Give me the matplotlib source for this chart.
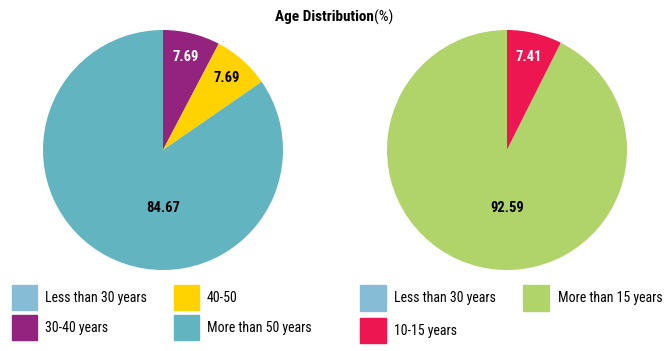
import numpy as np
import matplotlib.pyplot as plt
from matplotlib.patches import Patch

plt.rcParams['font.family'] = ['Roboto Condensed', 'Sofia Sans Condensed', 'DejaVu Sans']

# left pie: age of staff
age_labels = ["Less than 30 years", "30-40 years", "40-50", "More than 50 years"]
age_values = [0, 7.69, 7.69, 84.67]
age_colors = ["#86bcd6", "#93237f", "#ffd200", "#62b4c0"]
age_text = ["white", "white", "black", "black"]

# right pie: experience
exp_labels = ["Less than 30 years", "10-15 years", "More than 15 years"]
exp_values = [0, 7.41, 92.59]
exp_colors = ["#86bcd6", "#ee1651", "#b0d46a"]
exp_text = ["white", "white", "black"]


def draw_pie(ax, values, colors, text_colors):
    wedges, _ = ax.pie(values, colors=colors, startangle=90, counterclock=False,
                       radius=1.0, wedgeprops=dict(linewidth=0))
    for w, v, tc in zip(wedges, values, text_colors):
        if v == 0:
            continue
        if v > 50:
            x, y = 0, -0.48
        else:
            ang = np.deg2rad((w.theta1 + w.theta2) / 2)
            r = 0.8
            x, y = r * np.cos(ang), r * np.sin(ang)
        ax.text(x, y, f"{v:.2f}", ha='center', va='center', color=tc,
                fontsize=10.5, fontweight='bold')
    ax.set_xlim(-1, 1)
    ax.set_ylim(-1, 1)
    ax.set_aspect('equal')


fig = plt.figure(figsize=(6.68, 3.51), dpi=100)
W, H = 668, 351
ax1 = fig.add_axes([43 / W, 81 / H, 240 / W, 240 / H])
ax2 = fig.add_axes([387 / W, 81 / H, 240 / W, 240 / H])
draw_pie(ax1, age_values, age_colors, age_text)
draw_pie(ax2, exp_values, exp_colors, exp_text)

fig.text(374 / W, 1 - 17 / H, "Age Distribution", ha='right', va='center',
         fontsize=11, fontweight='bold')
fig.text(374 / W, 1 - 17 / H, "(%)", ha='left', va='center', fontsize=11)

leg_kw = dict(ncol=2, frameon=False, fontsize=10, handletextpad=0.6,
              borderaxespad=0, borderpad=0)
fig.legend(handles=[Patch(color=c, label=l) for c, l in zip(age_colors, age_labels)],
           loc='upper left', bbox_to_anchor=(12 / W, 1 - 285 / H),
           handlelength=1.8, handleheight=2.39,
           columnspacing=1.9, labelspacing=0.36, **leg_kw)
fig.legend(handles=[Patch(color=c, label=l) for c, l in zip(exp_colors, exp_labels)],
           loc='upper left', bbox_to_anchor=(360 / W, 1 - 285 / H),
           handlelength=1.87, handleheight=2.5,
           columnspacing=1.95, labelspacing=0.47, **leg_kw)

fig.savefig("out.png", dpi=100)
